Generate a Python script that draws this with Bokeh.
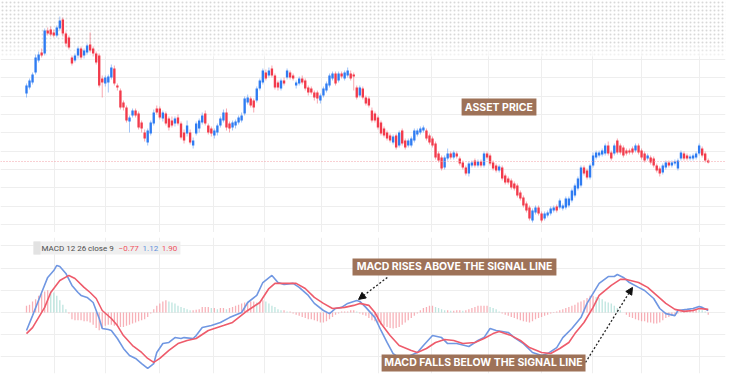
from bokeh.plotting import figure
from bokeh.layouts import column
from bokeh.models import Range1d, FixedTicker, Span, Label, Arrow, NormalHead, BoxAnnotation
from bokeh.embed import file_html
from bokeh.resources import INLINE

# ---------------- data ----------------
opens = [139,145,150,160,172,180,179,202,203,200,
         197,204,213,199,195,175,172,177,184,177,
         180,188,184,179,177,154,149,150,155,164,
         147,142,130,125,111,117,122,119,110,100,
         90,99,109,124,124,114,119,114,112,109,
         115,109,100,99,100,87,99,104,110,119,
         107,104,97,100,107,112,120,109,105,107,
         110,112,119,130,134,132,132,144,150,160,
         157,164,157,150,144,152,155,160,157,147,
         149,154,152,145,144,140,140,132,137,142,
         147,154,159,152,159,154,157,159,158,145,
         137,144,135,134,122,119,115,110,104,100,
         97,90,97,87,102,92,87,87,92,98,
         100,102,102,97,94,89,79,75,65,74,
         79,75,79,74,70,65,59,67,72,67,
         71,67,79,77,70,67,62,65,57,54,
         52,49,47,40,35,29,25,12,20,25,
         19,14,17,19,22,26,25,24,25,27,
         32,37,44,47,65,62,55,67,75,77,
         78,79,87,80,79,92,87,85,82,82,
         84,82,87,82,79,74,75,74,67,64,
         60,65,70,67,69,64,74,79,77,74,
         74,75,79,84,79,72]
closes = [147,152,158,175,178,177,202,199,198,197,
          205,212,199,189,185,169,177,184,175,182,
          187,182,179,170,147,150,155,156,165,149,
          145,125,125,112,115,122,117,105,104,94,
          102,110,120,120,115,120,109,105,107,114,
          109,95,92,107,90,92,109,112,117,109,
          100,99,102,107,114,120,105,104,110,111,
          115,117,134,135,127,125,144,152,162,154,
          162,157,145,145,152,149,162,155,154,150,
          154,150,144,140,140,135,134,137,144,149,
          157,159,149,159,156,160,162,154,156,135,
          145,135,129,127,112,112,105,99,97,94,
          92,96,85,100,89,85,92,94,102,102,
          104,105,94,90,87,75,72,64,75,79,
          75,80,76,69,65,59,69,70,67,71,
          67,79,75,69,64,62,66,54,50,50,
          45,44,37,34,27,22,14,22,25,19,
          12,19,20,24,25,22,32,27,34,34,
          42,47,54,65,59,55,67,77,80,80,
          82,87,79,74,87,80,80,77,79,80,
          80,87,80,75,72,77,70,67,62,59,
          67,70,67,70,71,72,80,74,74,76,
          77,79,87,77,72,70]
highs = [149,154,160,178,181,184,204,205,206,203,
         207,216,215,201,197,177,179,186,186,184,
         189,200,186,181,179,157,157,158,168,167,
         149,144,132,127,117,124,124,121,112,103,
         104,112,123,127,126,122,121,116,116,116,
         118,111,103,112,103,95,111,114,120,122,
         109,106,104,109,116,123,124,111,112,113,
         117,120,136,138,136,134,146,154,164,163,
         165,167,159,152,154,155,164,162,159,152,
         156,157,154,147,146,142,142,139,146,151,
         159,161,161,161,161,162,165,162,160,147,
         147,146,137,136,125,121,117,112,106,102,
         99,98,99,102,104,94,94,96,104,104,
         106,107,104,99,96,91,81,77,77,84,
         81,82,81,76,72,67,71,72,74,73,
         73,81,81,79,72,69,68,67,59,56,
         54,51,49,42,37,31,27,24,27,27,
         21,21,22,26,27,28,34,29,36,36,
         44,49,56,67,67,64,69,80,82,82,
         84,89,91,82,89,94,89,87,84,84,
         86,89,89,84,81,79,77,76,69,66,
         69,72,72,72,73,74,82,81,79,78,
         79,81,89,86,81,74]
lows = [135,143,148,158,170,175,177,197,196,195,
        195,202,196,186,183,167,170,174,173,174,
        178,180,176,168,145,135,146,140,153,147,
        142,123,122,110,100,115,115,103,100,91,
        87,97,107,118,113,111,107,102,105,106,
        107,93,89,96,88,84,97,100,108,107,
        98,96,94,97,105,110,102,100,102,104,
        108,110,117,128,125,120,130,142,148,152,
        155,155,143,142,142,147,153,153,152,144,
        147,148,142,137,138,132,129,129,135,140,
        145,152,147,150,154,152,155,152,142,133,
        135,133,127,125,110,110,103,97,95,92,
        90,88,83,85,87,83,85,85,90,96,
        98,100,92,88,85,73,70,62,63,72,
        73,73,74,67,63,57,56,65,65,65,
        65,65,73,67,62,60,60,52,48,48,
        43,42,35,32,25,20,12,10,18,17,
        10,12,15,17,20,20,23,22,23,25,
        30,35,42,45,57,53,53,65,73,75,
        76,77,77,72,77,78,78,75,77,78,
        78,80,78,73,70,72,68,65,60,56,
        58,63,65,65,67,62,72,72,72,72,
        72,73,77,75,70,69]
last_price = 71

macd_line = [(0,-0.81),(2,-0.14),(5,0.90),(7,1.58),(9,1.89),(10,2.12),(11,2.07),(13,1.76),
             (15,1.22),(17,0.90),(18,0.77),(20,0.68),(22,0.45),(24,-0.27),(25,-0.72),(27,-0.77),
             (28,-0.81),(30,-1.17),(32,-1.62),(34,-1.94),(36,-2.07),(38,-2.30),(40,-2.52),(42,-2.30),
             (43,-1.80),(45,-1.40),(47,-1.35),(49,-1.13),(51,-1.17),(52,-1.13),(55,-1.17),(56,-1.04),
             (58,-0.68),(61,-0.59),(64,-0.45),(67,-0.23),(71,0.00),(73,0.45),(76,0.77),(78,1.35),
             (81,1.67),(83,1.35),(85,1.26),(88,1.31),(90,1.13),(93,0.77),(95,0.41),(98,0.09),
             (100,-0.05),(102,0.18),(104,0.23),(106,0.41),(109,0.54),(110,0.50),(112,0.23),(115,-0.23),
             (117,-0.81),(119,-1.35),(121,-1.85),(123,-2.03),(126,-1.98),(129,-1.80),(131,-1.49),(134,-1.04),
             (137,-1.13),(139,-1.40),(142,-1.40),(146,-1.53),(149,-1.26),(151,-1.13),(153,-0.72),(155,-0.81),
             (159,-0.90),(161,-1.13),(164,-1.40),(167,-1.80),(170,-1.94),(172,-1.85),(175,-1.58),(177,-1.13),
             (180,-0.72),(183,-0.23),(185,0.41),(187,0.86),(189,1.31),(192,1.62),(194,1.62),(195,1.71),
             (197,1.58),(199,1.35),(202,1.13),(204,0.99),(207,0.63),(209,0.18),(211,-0.05),(214,-0.14),
             (215,0.09),(218,0.14),(220,0.18),(222,0.27),(223,0.23),(225,0.09)]
signal_line = [(0,-0.95),(2,-0.68),(6,0.23),(8,0.90),(11,1.44),(14,1.67),(16,1.53),(19,1.13),
               (21,0.90),(23,0.63),(25,0.09),(28,-0.27),(30,-0.59),(32,-1.04),(35,-1.49),(38,-1.80),
               (40,-2.07),(42,-2.25),(44,-2.07),(47,-1.71),(50,-1.40),(53,-1.26),(56,-1.17),(60,-0.81),
               (65,-0.59),(68,-0.45),(73,0.09),(77,0.45),(80,1.08),(82,1.31),(85,1.31),(89,1.31),
               (92,1.08),(95,0.68),(98,0.41),(101,0.18),(105,0.23),(108,0.32),(110,0.41),(113,0.32),
               (115,0.00),(117,-0.50),(120,-1.04),(123,-1.49),(127,-1.71),(129,-1.80),(132,-1.62),(135,-1.35),
               (138,-1.22),(141,-1.26),(144,-1.40),(148,-1.35),(151,-1.17),(154,-0.95),(156,-0.86),(160,-1.04),
               (163,-1.26),(166,-1.58),(170,-1.80),(173,-1.85),(176,-1.62),(179,-1.35),(181,-0.95),(184,-0.45),
               (187,0.23),(189,0.77),(193,1.22),(196,1.49),(198,1.49),(202,1.35),(205,1.13),(208,0.77),
               (211,0.41),(214,0.14),(217,0.05),(220,0.09),(222,0.18),(225,0.14)]
hist_vals = [0.3,0.35,0.5,0.6,0.75,0.85,0.95,1.0,0.95,0.9,
             0.75,0.55,0.35,0.15,-0.05,-0.3,-0.35,-0.35,-0.35,-0.4,
             -0.4,-0.45,-0.55,-0.7,-0.8,-0.7,-0.6,-0.55,-0.55,-0.6,
             -0.6,-0.65,-0.65,-0.6,-0.55,-0.5,-0.45,-0.4,-0.35,-0.3,
             -0.2,-0.05,0.15,0.3,0.4,0.5,0.55,0.5,0.45,0.4,
             0.3,0.25,0.2,0.15,0.1,0.1,0.12,0.15,0.25,0.25,
             0.25,0.2,0.2,0.15,0.2,0.2,0.15,0.2,0.25,0.3,
             0.35,0.4,0.45,0.45,0.5,0.5,0.45,0.5,0.55,0.5,
             0.4,0.3,0.25,0.15,0.1,0.1,0.05,0.05,-0.05,-0.1,
             -0.15,-0.2,-0.25,-0.3,-0.3,-0.35,-0.4,-0.45,-0.45,-0.4,
             -0.3,-0.2,-0.1,-0.05,0.05,0.05,0.05,0.1,0.1,0.05,
             -0.05,-0.1,-0.15,-0.25,-0.35,-0.4,-0.45,-0.55,-0.6,-0.65,
             -0.7,-0.72,-0.7,-0.65,-0.55,-0.45,-0.35,-0.25,-0.15,-0.05,
             0.1,0.2,0.25,0.3,0.3,0.25,0.2,0.15,0.1,0.1,
             0.08,0.08,0.1,0.1,0.08,0.1,0.15,0.2,0.25,0.3,
             0.3,0.3,0.3,0.25,0.2,0.15,0.05,-0.05,-0.1,-0.15,
             -0.2,-0.25,-0.3,-0.35,-0.4,-0.42,-0.45,-0.4,-0.3,-0.25,
             -0.2,-0.15,-0.1,-0.05,0.02,0.05,0.1,0.15,0.2,0.25,
             0.3,0.35,0.45,0.5,0.55,0.65,0.75,0.75,0.7,0.65,
             0.6,0.5,0.45,0.4,0.3,0.2,0.1,0.0,-0.1,-0.2,
             -0.25,-0.3,-0.35,-0.4,-0.4,-0.45,-0.45,-0.5,-0.5,-0.45,
             -0.35,-0.25,-0.2,-0.15,-0.1,-0.05,0.05,0.1,0.1,0.12,
             0.15,0.15,0.12,0.1,0.05,-0.1]

time_ticks = [9.2, 26.1, 43.9, 61.7, 78.5, 97.4, 116.2, 133.7, 152.5, 170.0, 186.8, 203.0, 222.1]
price_ticks = [8, 26.3, 44.7, 63, 81.3, 99.7, 118, 136.3, 154.7, 173, 191.3, 209.7]
macd_ticks = [-2, -1, 0, 1, 2, 3]

legend_title = "MACD 12 26 close 9"
legend_values = ["\u22120.77", "1.12", "1.90"]
label_price = "ASSET PRICE"
label_rise = "MACD RISES ABOVE THE SIGNAL LINE"
label_fall = "MACD FALLS BELOW THE SIGNAL LINE"

# ---------------- styles ----------------
BLUE = "#2f7cf2"
RED = "#f23a4b"
MACD_BLUE = "#7097e2"
SIG_RED = "#ee5b6b"
BROWN = "#9e7258"
GRID = "#eeeeee"
X0, X1 = -8.58, 230.7

n = len(closes)
idx = list(range(n))
cols = [BLUE if c >= o else RED for o, c in zip(opens, closes)]
btop = [max(o, c) for o, c in zip(opens, closes)]
bbot = [min(o, c) for o, c in zip(opens, closes)]

# ---------------- price pane ----------------
p = figure(width=750, height=232, x_range=Range1d(X0, X1), y_range=Range1d(0, 232),
           output_backend="svg", toolbar_location=None, title=None,
           x_axis_location=None, y_axis_location=None,
           min_border_left=0, min_border_right=25, min_border_top=0, min_border_bottom=0)
p.outline_line_color = None
p.xgrid.ticker = FixedTicker(ticks=time_ticks)
p.ygrid.ticker = FixedTicker(ticks=price_ticks)
for g in (p.xgrid, p.ygrid):
    g.grid_line_color = GRID
    g.level = "image"

# dotted fade at the top
for b, t, fa, ha in [(186, 240, 1.0, 0.45), (181, 186, 0.85, 0.3), (176, 181, 0.6, 0.16)]:
    p.quad(left=X0, right=X1, bottom=b, top=t, fill_color="white", fill_alpha=fa,
           line_color=None, hatch_pattern="dot", hatch_color="#a8a8a8", hatch_alpha=ha,
           hatch_scale=4, hatch_weight=1, level="underlay")

p.segment(x0=idx, y0=lows, x1=idx, y1=highs, line_color=cols, line_alpha=0.45, line_width=1)
p.vbar(x=idx, top=btop, bottom=bbot, width=0.78, fill_color=cols, line_color=None)

p.add_layout(Span(location=last_price, dimension="width", line_color="#f3a0a6",
                  line_dash="1 2", line_width=1))

p.add_layout(BoxAnnotation(left=143.6, right=168.3, bottom=117, top=134,
                           fill_color=BROWN, fill_alpha=1, line_color=None))
p.add_layout(Label(x=155.9, y=125.5, text=label_price, text_align="center", text_baseline="middle",
                   text_color="white", text_font="Inter", text_font_style="bold",
                   text_font_size="10.5px"))

# ---------------- MACD pane ----------------
p2 = figure(width=750, height=154, x_range=p.x_range, y_range=Range1d(-2.748, 3.378),
            output_backend="svg", toolbar_location=None, title=None,
            x_axis_location=None, y_axis_location=None,
            min_border_left=0, min_border_right=25, min_border_top=5, min_border_bottom=13)
p2.outline_line_color = None
p2.xgrid.ticker = FixedTicker(ticks=time_ticks)
p2.ygrid.ticker = FixedTicker(ticks=macd_ticks)
for g in (p2.xgrid, p2.ygrid):
    g.grid_line_color = GRID

hcols = []
for k, v in enumerate(hist_vals):
    prev = hist_vals[k - 1] if k > 0 else v
    hcols.append("#9fd8d0" if (v > 0 and v < prev) else "#f48e98")
p2.vbar(x=idx, top=hist_vals, bottom=0, width=0.42, fill_color=hcols, line_color=None, fill_alpha=0.7)

p2.line([a for a, _ in macd_line], [b for _, b in macd_line], line_color=MACD_BLUE, line_width=1.6)
p2.line([a for a, _ in signal_line], [b for _, b in signal_line], line_color=SIG_RED, line_width=1.6)

# legend strip
p2.add_layout(BoxAnnotation(left=2.31, right=50.8, bottom=2.61, top=3.20,
                            fill_color="#efefef", fill_alpha=1, line_color=None))
p2.add_layout(BoxAnnotation(left=2.31, right=4.62, bottom=2.61, top=3.20,
                            fill_color="#e2e2e2", fill_alpha=1, line_color=None))
p2.add_layout(Label(x=4.95, y=2.905, text=legend_title, text_baseline="middle",
                    text_font="Roboto", text_font_size="8px", text_color="#4d4d4d"))
for xv, txt, c in zip([30.4, 38.3, 44.6], legend_values, ["#f0525e", "#5f8fdc", "#f0525e"]):
    p2.add_layout(Label(x=xv, y=2.905, text=txt, text_baseline="middle",
                        text_font="Roboto", text_font_size="8px", text_color=c))

# arrows
for xs, ys, xe, ye in [(119.1, 1.58, 109.6, 0.59), (184.5, -2.25, 200.0, 1.13)]:
    p2.add_layout(Arrow(end=NormalHead(size=7, fill_color="#111111", line_color="#111111"),
                        x_start=xs, y_start=ys, x_end=xe, y_end=ye,
                        line_color="#222222", line_width=1.3, line_dash="2 2"))

# callout boxes
for l, r, b, t, cx, cy, txt in [(107.6, 174.9, 1.67, 2.43, 141.3, 2.05, label_rise),
                                 (117.2, 184.5, -2.66, -1.89, 150.8, -2.27, label_fall)]:
    p2.add_layout(BoxAnnotation(left=l, right=r, bottom=b, top=t,
                                fill_color=BROWN, fill_alpha=1, line_color=None))
    p2.add_layout(Label(x=cx, y=cy, text=txt, text_align="center", text_baseline="middle",
                        text_color="white", text_font="Inter", text_font_style="bold",
                        text_font_size="10.5px"))

layout = column(p, p2)
open("out.html", "w").write(file_html(layout, INLINE))
